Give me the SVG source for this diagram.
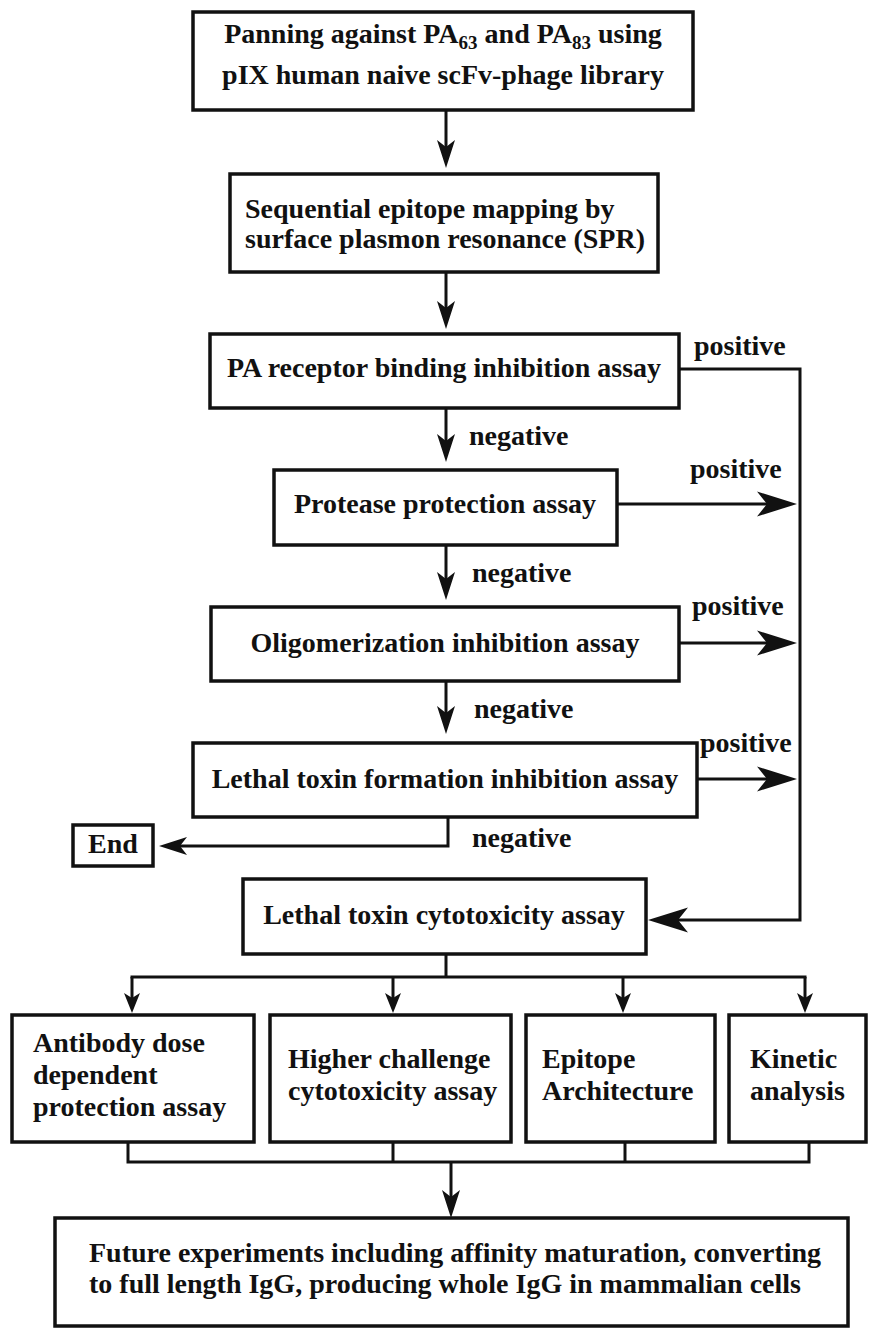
<svg xmlns="http://www.w3.org/2000/svg" width="869" height="1330" viewBox="0 0 869 1330">
<defs>
<style>
.box{fill:#fff;stroke:#111;stroke-width:3.5}
.t{font-family:"Liberation Serif","Times New Roman",serif;font-weight:bold;font-size:28px;fill:#111}
.m{text-anchor:middle}
.ln{fill:none;stroke:#111;stroke-width:3;stroke-linejoin:miter}
.sub{font-size:19px}
</style>
<marker id="aS" markerUnits="userSpaceOnUse" orient="auto" overflow="visible" refX="0" refY="0" markerWidth="1" markerHeight="1"><path d="M8,0 L-20,-9 L-13,0 L-20,9 Z" fill="#111"/></marker>
<marker id="aL" markerUnits="userSpaceOnUse" orient="auto" overflow="visible" refX="0" refY="0" markerWidth="1" markerHeight="1"><path d="M8,0 L-32,-12.5 L-22,0 L-32,12.5 Z" fill="#111"/></marker>
<marker id="aX" markerUnits="userSpaceOnUse" orient="auto" overflow="visible" refX="0" refY="0" markerWidth="1" markerHeight="1"><path d="M8,0 L-12,-8 L-7,0 L-12,8 Z" fill="#111"/></marker>
</defs>
<rect width="869" height="1330" fill="#fff"/>

<g id="connectors">
<line class="ln" x1="446" y1="110" x2="446" y2="160" marker-end="url(#aS)"/>
<line class="ln" x1="446" y1="272" x2="446" y2="321" marker-end="url(#aS)"/>
<line class="ln" x1="446" y1="408" x2="446" y2="454" marker-end="url(#aS)"/>
<line class="ln" x1="446" y1="545" x2="446" y2="592" marker-end="url(#aS)"/>
<line class="ln" x1="446" y1="681" x2="446" y2="726" marker-end="url(#aS)"/>
<polyline class="ln" points="448,817 448,846 167,846" marker-end="url(#aS)"/>
<polyline class="ln" points="679,369 800,369 800,920 656,920" marker-end="url(#aL)"/>
<line class="ln" x1="617" y1="504" x2="789" y2="504" marker-end="url(#aL)"/>
<line class="ln" x1="679" y1="643" x2="789" y2="643" marker-end="url(#aL)"/>
<line class="ln" x1="697" y1="779" x2="789" y2="779" marker-end="url(#aL)"/>
<line class="ln" x1="446" y1="954" x2="446" y2="977"/>
<line class="ln" x1="130.5" y1="977" x2="806.5" y2="977"/>
<line class="ln" x1="132" y1="977" x2="132" y2="1005" marker-end="url(#aX)"/>
<line class="ln" x1="393" y1="977" x2="393" y2="1005" marker-end="url(#aX)"/>
<line class="ln" x1="623" y1="977" x2="623" y2="1005" marker-end="url(#aX)"/>
<line class="ln" x1="805" y1="977" x2="805" y2="1005" marker-end="url(#aX)"/>
<polyline class="ln" points="128,1142 128,1162 809,1162 809,1142"/>
<line class="ln" x1="393" y1="1142" x2="393" y2="1162"/>
<line class="ln" x1="625" y1="1142" x2="625" y2="1162"/>
<line class="ln" x1="451" y1="1162" x2="451" y2="1210" marker-end="url(#aS)"/>
<text class="t" x="694" y="355">positive</text>
<text class="t" x="690" y="478">positive</text>
<text class="t" x="692" y="615">positive</text>
<text class="t" x="700" y="752">positive</text>
<text class="t" x="469" y="445">negative</text>
<text class="t" x="472" y="582">negative</text>
<text class="t" x="474" y="718">negative</text>
<text class="t" x="472" y="847">negative</text>
</g>

<g id="n1"><rect class="box" x="193" y="12" width="500" height="98"/>
<text class="t m" x="443" y="43">Panning against PA<tspan class="sub" dy="6">63</tspan><tspan dy="-6"> and PA</tspan><tspan class="sub" dy="6">83</tspan><tspan dy="-6"> using</tspan></text>
<text class="t m" x="443" y="84">pIX human naive scFv-phage library</text></g>

<g id="n2"><rect class="box" x="230" y="174" width="428" height="98"/>
<text class="t" x="245" y="218">Sequential epitope mapping by</text>
<text class="t" x="245" y="248">surface plasmon resonance (SPR)</text></g>

<g id="n3"><rect class="box" x="210" y="334" width="469" height="74"/>
<text class="t m" x="444" y="377">PA receptor binding inhibition assay</text></g>

<g id="n4"><rect class="box" x="274" y="470" width="343" height="75"/>
<text class="t m" x="445" y="513">Protease protection assay</text></g>

<g id="n5"><rect class="box" x="211" y="607" width="468" height="74"/>
<text class="t m" x="445" y="652">Oligomerization inhibition assay</text></g>

<g id="n6"><rect class="box" x="193" y="743" width="504" height="74"/>
<text class="t m" x="445" y="788">Lethal toxin formation inhibition assay</text></g>

<g id="n7"><rect class="box" x="73" y="825" width="80" height="41"/>
<text class="t m" x="113" y="853">End</text></g>

<g id="n8"><rect class="box" x="243" y="879" width="403" height="75"/>
<text class="t m" x="444" y="924">Lethal toxin cytotoxicity assay</text></g>

<g id="n9"><rect class="box" x="12" y="1015" width="242" height="127"/>
<text class="t" x="33" y="1052">Antibody dose</text>
<text class="t" x="33" y="1084">dependent</text>
<text class="t" x="33" y="1116">protection assay</text></g>

<g id="n10"><rect class="box" x="270" y="1015" width="241" height="127"/>
<text class="t" x="288" y="1068">Higher challenge</text>
<text class="t" x="288" y="1100">cytotoxicity assay</text></g>

<g id="n11"><rect class="box" x="526" y="1015" width="189" height="127"/>
<text class="t" x="542" y="1068">Epitope</text>
<text class="t" x="542" y="1100">Architecture</text></g>

<g id="n12"><rect class="box" x="729" y="1015" width="137" height="127"/>
<text class="t" x="750" y="1068">Kinetic</text>
<text class="t" x="750" y="1100">analysis</text></g>

<g id="n13"><rect class="box" x="55" y="1218" width="793" height="108"/>
<text class="t" x="89" y="1262">Future experiments including affinity maturation, converting</text>
<text class="t" x="89" y="1293">to full length IgG, producing whole IgG in mammalian cells</text></g>
</svg>
